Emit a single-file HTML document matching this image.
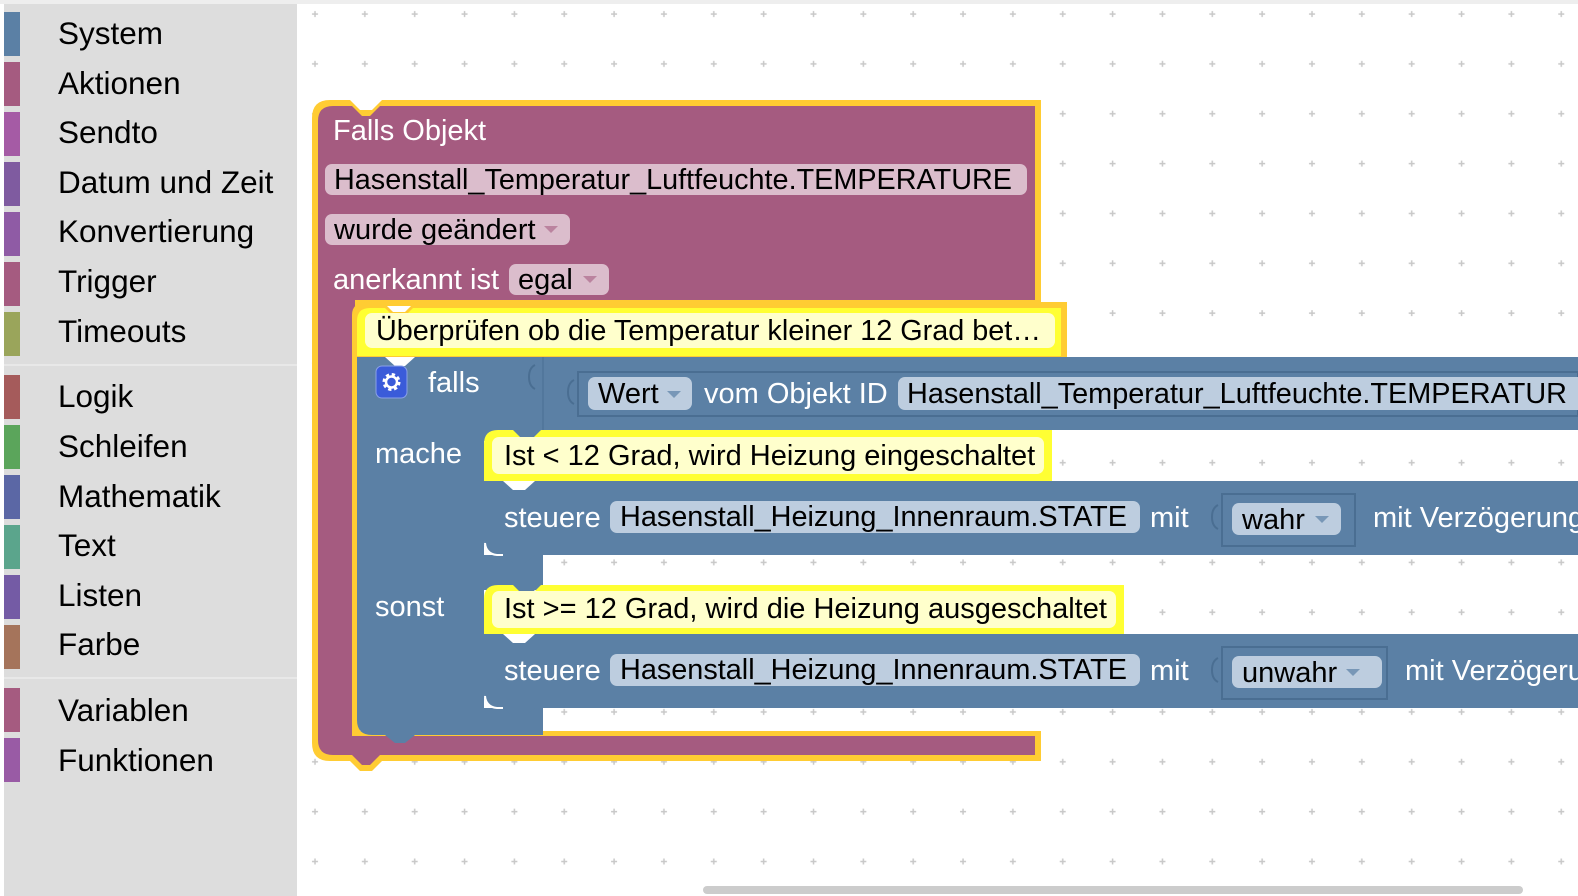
<!DOCTYPE html>
<html><head><meta charset="utf-8"><style>
html,body{margin:0;padding:0;width:1578px;height:896px;overflow:hidden;background:#fff}
svg{display:block}
text{font-family:"Liberation Sans",Arial,sans-serif;font-size:29px}
.s{font-size:31.5px}
.w{fill:#fff}.b{fill:#000}
</style></head><body>
<svg width="1578" height="896" viewBox="0 0 1578 896" xmlns="http://www.w3.org/2000/svg">
<defs>
<pattern id="g" x="290" y="-11" width="49.85" height="49.85" patternUnits="userSpaceOnUse">
<path d="M25 22v6M22 25h6" stroke="#c8c8c8" stroke-width="1.5"/>
</pattern>
</defs>
<rect x="0" y="0" width="1578" height="896" fill="#fff"/>
<rect x="297" y="4" width="1281" height="892" fill="url(#g)"/>
<rect x="0" y="0" width="1578" height="4" fill="#eee"/>
<rect x="703" y="886" width="820" height="8" rx="4" fill="#ccc"/>
<!-- sidebar -->
<rect x="4" y="4" width="293" height="892" fill="#ddd"/>
<rect x="4" y="364" width="293" height="2" fill="#e8e8e8"/>
<rect x="4" y="677" width="293" height="2" fill="#e8e8e8"/>
<g class="s">
<rect x="4" y="12" width="16" height="44" fill="#5b80a5"/><text x="58" y="44" class="b s">System</text>
<rect x="4" y="62" width="16" height="44" fill="#a55b80"/><text x="58" y="94" class="b s">Aktionen</text>
<rect x="4" y="112" width="16" height="44" fill="#a55ba5"/><text x="58" y="143" class="b s">Sendto</text>
<rect x="4" y="162" width="16" height="44" fill="#7f5ba0"/><text x="58" y="193" class="b s">Datum und Zeit</text>
<rect x="4" y="212" width="16" height="44" fill="#8f5ba5"/><text x="58" y="242" class="b s">Konvertierung</text>
<rect x="4" y="262" width="16" height="44" fill="#a55b80"/><text x="58" y="292" class="b s">Trigger</text>
<rect x="4" y="312" width="16" height="44" fill="#9aa55b"/><text x="58" y="342" class="b s">Timeouts</text>
<rect x="4" y="375" width="16" height="44" fill="#a55b5b"/><text x="58" y="407" class="b s">Logik</text>
<rect x="4" y="425" width="16" height="44" fill="#5ba55b"/><text x="58" y="457" class="b s">Schleifen</text>
<rect x="4" y="475" width="16" height="44" fill="#5b67a5"/><text x="58" y="507" class="b s">Mathematik</text>
<rect x="4" y="525" width="16" height="44" fill="#5ba58c"/><text x="58" y="556" class="b s">Text</text>
<rect x="4" y="575" width="16" height="44" fill="#745ba5"/><text x="58" y="606" class="b s">Listen</text>
<rect x="4" y="625" width="16" height="44" fill="#a5745b"/><text x="58" y="655" class="b s">Farbe</text>
<rect x="4" y="688" width="16" height="44" fill="#a55b80"/><text x="58" y="721" class="b s">Variablen</text>
<rect x="4" y="738" width="16" height="44" fill="#995ba5"/><text x="58" y="771" class="b s">Funktionen</text>
</g>
<!-- outer purple block with yellow highlight -->
<path d="M330 100 H350 L360 110 H372 L382 100 H1041 V306 H360 V731 H1041 V761 H382 L372 771 H360 L350 761 H330 Q312 761 312 743 V118 Q312 100 330 100 Z" fill="#fc3"/>
<path d="M333 106 H352 L362 116 H370 L380 106 H1035 V300 H355 V736 H1035 V755 H380 L370 765 H362 L352 755 H333 Q318 755 318 740 V121 Q318 106 333 106 Z" fill="#a55b80"/>
<text x="333" y="140" class="w">Falls Objekt</text>
<rect x="325" y="164" width="702" height="31" rx="7" fill="#dbbdcc"/>
<text x="334" y="189" class="b" textLength="678" lengthAdjust="spacingAndGlyphs">Hasenstall_Temperatur_Luftfeuchte.TEMPERATURE</text>
<rect x="325" y="214" width="245" height="31" rx="7" fill="#dbbdcc"/>
<text x="334" y="239" class="b">wurde geändert</text>
<path d="M544 226 h14 l-7 7z" fill="#a55b80" opacity=".6"/>
<text x="333" y="289" class="w">anerkannt ist</text>
<rect x="509" y="264" width="100" height="31" rx="7" fill="#dbbdcc"/>
<text x="518" y="289" class="b">egal</text>
<path d="M583 276 h14 l-7 7z" fill="#a55b80" opacity=".6"/>
<!-- yellow highlight around inner stack -->
<path d="M368 302 H383 L393 312 H405 L415 302 H1067 V357 H357 V736 H352 V315 Q352 302 368 302 Z" fill="#fc3"/>
<!-- comment block -->
<path d="M370 308 H385 L395 318 H403 L413 308 H1061 V356 H357 V321 Q357 308 370 308 Z" fill="#ff3"/>
<rect x="365" y="313" width="690" height="35" rx="7" fill="#ffc"/>
<text x="376" y="340" class="b" textLength="665" lengthAdjust="spacingAndGlyphs">Überprüfen ob die Temperatur kleiner 12 Grad bet…</text>
<!-- blue if block -->
<path d="M357 357 H385 L395 366 H405 L415 357 H1578 V430 H543 V441 H535 L525 450 H513 L503 441 H484 V555 H543 V590 H535 L525 598 H513 L503 590 H484 V708 H543 V735 H415 L405 743 H395 L385 735 H372 Q357 735 357 720 Z" fill="#5b80a5"/>
<path d="M543 357 V430" stroke="#4a6e92" stroke-width="1"/>
<path d="M535 365 q-6 3 -6 12 q0 9 6 12" stroke="#4a6e92" stroke-width="2" fill="none"/>
<rect x="376" y="366" width="31" height="32" rx="6" fill="#3a5bd9" stroke="#8aa0e8" stroke-width="1"/>
<circle cx="391.5" cy="382" r="7" fill="none" stroke="#fff" stroke-width="4" stroke-dasharray="3 2.5"/>
<circle cx="391.5" cy="382" r="5.5" fill="none" stroke="#fff" stroke-width="2.5"/>
<text x="428" y="392" class="w">falls</text>
<rect x="578" y="372" width="1000" height="44" fill="none" stroke="#4a6e92" stroke-width="2"/>
<path d="M574 380 q-6 3 -6 12 q0 9 6 12" stroke="#4a6e92" stroke-width="2" fill="none"/>
<rect x="588" y="377" width="104" height="33" rx="7" fill="#bdcddf"/>
<text x="598" y="403" class="b">Wert</text>
<path d="M667 391 h14 l-7 7z" fill="#5b80a5" opacity=".7"/>
<text x="704" y="403" class="w">vom Objekt ID</text>
<rect x="898" y="377" width="690" height="33" rx="7" fill="#bdcddf"/>
<text x="907" y="403" class="b" textLength="660" lengthAdjust="spacingAndGlyphs">Hasenstall_Temperatur_Luftfeuchte.TEMPERATUR</text>
<text x="375" y="463" class="w">mache</text>
<text x="375" y="616" class="w">sonst</text>
<!-- mache comment -->
<path d="M498 430 H513 L523 440 H531 L541 430 H1052 V481 H484 V444 Q484 430 498 430 Z" fill="#ff3"/>
<rect x="492" y="437" width="552" height="37" rx="7" fill="#ffc"/>
<text x="504" y="465" class="b">Ist &lt; 12 Grad, wird Heizung eingeschaltet</text>
<!-- steuere 1 -->
<path d="M484 481 H503 L513 490 H525 L535 481 H1578 V555 H535 L525 563 H513 L503 555 H498 Q484 555 484 541 Z" fill="#5b80a5"/>
<path d="M485 543 Q486 554 497 555 H503" stroke="#fff" stroke-width="2" fill="none"/>
<text x="504" y="527" class="w">steuere</text>
<rect x="610" y="501" width="530" height="32" rx="7" fill="#bdcddf"/>
<text x="620" y="526" class="b" textLength="507" lengthAdjust="spacingAndGlyphs">Hasenstall_Heizung_Innenraum.STATE</text>
<text x="1150" y="527" class="w">mit</text>
<rect x="1222" y="494" width="133" height="52" fill="none" stroke="#4a6e92" stroke-width="2"/>
<path d="M1218 505 q-6 3 -6 12 q0 9 6 12" stroke="#4a6e92" stroke-width="2" fill="none"/>
<rect x="1232" y="503" width="109" height="32" rx="7" fill="#bdcddf"/>
<text x="1242" y="529" class="b">wahr</text>
<path d="M1315 516 h14 l-7 7z" fill="#5b80a5" opacity=".7"/>
<text x="1373" y="527" class="w">mit Verzögerung</text>
<!-- sonst comment -->
<path d="M498 585 H513 L523 595 H531 L541 585 H1124 V634 H484 V599 Q484 585 498 585 Z" fill="#ff3"/>
<rect x="492" y="591" width="624" height="37" rx="7" fill="#ffc"/>
<text x="504" y="618" class="b">Ist &gt;= 12 Grad, wird die Heizung ausgeschaltet</text>
<!-- steuere 2 -->
<path d="M484 634 H503 L513 643 H525 L535 634 H1578 V708 H535 L525 716 H513 L503 708 H498 Q484 708 484 694 Z" fill="#5b80a5"/>
<path d="M485 696 Q486 707 497 708 H503" stroke="#fff" stroke-width="2" fill="none"/>
<text x="504" y="680" class="w">steuere</text>
<rect x="610" y="654" width="530" height="32" rx="7" fill="#bdcddf"/>
<text x="620" y="679" class="b" textLength="507" lengthAdjust="spacingAndGlyphs">Hasenstall_Heizung_Innenraum.STATE</text>
<text x="1150" y="680" class="w">mit</text>
<rect x="1222" y="647" width="165" height="52" fill="none" stroke="#4a6e92" stroke-width="2"/>
<path d="M1218 658 q-6 3 -6 12 q0 9 6 12" stroke="#4a6e92" stroke-width="2" fill="none"/>
<rect x="1232" y="656" width="150" height="32" rx="7" fill="#bdcddf"/>
<text x="1242" y="682" class="b">unwahr</text>
<path d="M1346 669 h14 l-7 7z" fill="#5b80a5" opacity=".7"/>
<text x="1405" y="680" class="w">mit Verzögerung</text>
</svg>
</body></html>
